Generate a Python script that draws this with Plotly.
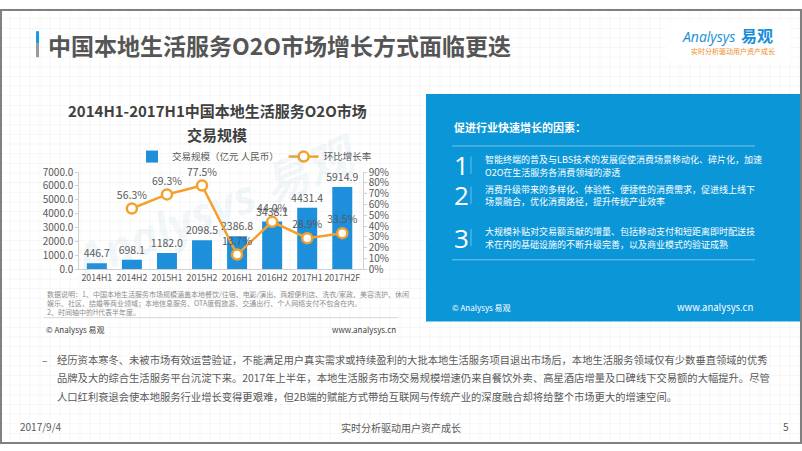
import plotly.graph_objects as go

W, H = 802, 451

categories = ["2014H1", "2014H2", "2015H1", "2015H2", "2016H1", "2016H2", "2017H1", "2017H2F"]
volume = [446.7, 698.1, 1182.0, 2098.5, 2386.8, 3438.1, 4431.4, 5914.9]
growth_categories = ["2014H2", "2015H1", "2015H2", "2016H1", "2016H2", "2017H1", "2017H2F"]
growth = [0.563, 0.693, 0.775, 0.137, 0.440, 0.289, 0.335]
left_ticks = [0, 1000, 2000, 3000, 4000, 5000, 6000, 7000]
right_ticks = [0, 0.1, 0.2, 0.3, 0.4, 0.5, 0.6, 0.7, 0.8, 0.9]

FONT = "Noto Sans CJK SC, Noto Sans, sans-serif"
BAR = "#1E8FDB"
ORANGE = "#F2A22C"
PANEL = "#0B96D8"


def px(x):
    return x / W


def py(y):
    return 1 - y / H


fig = go.Figure()
fig.add_trace(go.Bar(
    x=categories, y=volume, name="交易规模（亿元 人民币）",
    marker=dict(color=BAR, line=dict(width=0)), width=0.57,
    text=[f"{v:.1f}" for v in volume], textposition="outside", constraintext="none",
    textfont=dict(size=10.5, color="#595959", family=FONT),
    cliponaxis=False, yaxis="y",
))
fig.add_trace(go.Scatter(
    x=growth_categories, y=growth, name="环比增长率", mode="lines+markers+text",
    line=dict(color=ORANGE, width=2.5),
    marker=dict(size=10, color="white", line=dict(color=ORANGE, width=2.5)),
    text=[f"{v*100:.1f}%" for v in growth], textposition="top center",
    textfont=dict(size=10.5, color="#595959", family=FONT),
    cliponaxis=False, yaxis="y2",
))

shapes = []
# faint background grid
for gx in range(0, W, 10):
    shapes.append(dict(type="line", xref="paper", yref="paper", x0=px(gx), x1=px(gx), y0=0, y1=1,
                       line=dict(color="rgba(0,0,0,0.035)", width=1), layer="below"))
for gy in range(0, H, 10):
    shapes.append(dict(type="line", xref="paper", yref="paper", x0=0, x1=1, y0=py(gy), y1=py(gy),
                       line=dict(color="rgba(0,0,0,0.035)", width=1), layer="below"))

# slide border
shapes.append(dict(type="rect", xref="paper", yref="paper", x0=px(1), x1=px(801), y0=py(450), y1=py(1),
                   line=dict(color="#808080", width=2), fillcolor="rgba(0,0,0,0)"))
# title accent bar
shapes.append(dict(type="rect", xref="paper", yref="paper", x0=px(36), x1=px(39), y0=py(36), y1=py(23),
                   line=dict(width=0), fillcolor="#1A9BE0"))
shapes.append(dict(type="rect", xref="paper", yref="paper", x0=px(36), x1=px(39), y0=py(50), y1=py(36),
                   line=dict(width=0), fillcolor="#9A9A9A"))
# logo white box
shapes.append(dict(type="rect", xref="paper", yref="paper", x0=px(666), x1=px(790), y0=py(55), y1=py(12),
                   line=dict(width=0), fillcolor="white"))
# right blue panel
shapes.append(dict(type="rect", xref="paper", yref="paper", x0=px(426), x1=px(800), y0=py(324), y1=py(88),
                   line=dict(width=0), fillcolor=PANEL))
for yy in (142, 260):
    shapes.append(dict(type="line", xref="paper", yref="paper", x0=px(452), x1=px(755), y0=py(yy), y1=py(yy),
                       line=dict(color="rgba(255,255,255,0.45)", width=1)))
for yc in (162, 193, 237):
    shapes.append(dict(type="line", xref="paper", yref="paper", x0=px(471), x1=px(471), y0=py(yc + 9), y1=py(yc - 9),
                       line=dict(color="rgba(255,255,255,0.4)", width=1)))
# left chart footer separator
shapes.append(dict(type="line", xref="paper", yref="paper", x0=px(44), x1=px(398), y0=py(320), y1=py(320),
                   line=dict(color="#D9D9D9", width=1)))

ann = []


def text(x, y, s, size, color="#595959", xanchor="left", bold=False, family=FONT, **kw):
    if bold:
        s = f"<b>{s}</b>"
    ann.append(dict(x=px(x), y=py(y), xref="paper", yref="paper", text=s, showarrow=False,
                    xanchor=xanchor, yanchor="middle", align="left",
                    font=dict(size=size, color=color, family=family), **kw))


# main title
text(46, 37, "中国本地生活服务O2O市场增长方式面临更迭", 23, color="#555555", bold=True)
# logo
text(680, 28, "<i>Analysys</i>", 14, color="#1A8FD8", family="Open Sans, sans-serif")
text(775, 27, "易观", 16, color="#1A8FD8", xanchor="right", bold=True)
text(777, 44, "实时分析驱动用户资产成长", 7, color="#F08C1E", xanchor="right")
# watermark
text(215, 205, "<b><i>Analysys 易观</i></b>", 46, color="rgba(120,170,200,0.11)", xanchor="center",
     family="Open Sans, Noto Sans CJK SC, sans-serif", textangle=-22)
# chart title
text(217, 105, "2014H1-2017H1中国本地生活服务O2O市场", 15, color="#404040", xanchor="center", bold=True)
text(217, 130, "交易规模", 15, color="#404040", xanchor="center", bold=True)
# chart notes
text(45, 296, "数据说明：1、中国本地生活服务市场规模涵盖本地餐饮/住宿、电影/演出、商超便利店、洗衣/家政、美容洗护、休闲", 7, color="#8C8C8C")
text(45, 305, "娱乐、社区、结婚等商业领域；本地信息服务、OTA度假旅游、交通出行、个人网络支付不包含在内。", 7, color="#8C8C8C")
text(45, 314, "2、时间轴中的H代表半年度。", 7, color="#8C8C8C")
text(44, 332, "© Analysys 易观", 8, color="#404040")
text(398, 332, "www.analysys.cn", 8, color="#404040", xanchor="right")

# right panel
text(452, 122, "促进行业快速增长的因素：", 11, color="white", bold=True)
items = [
    ("1", 162, ["智能终端的普及与LBS技术的发展促使消费场景移动化、碎片化，加速", "O2O在生活服务各消费领域的渗透"]),
    ("2", 193, ["消费升级带来的多样化、体验性、便捷性的消费需求，促进线上线下", "场景融合，优化消费路径，提升传统产业效率"]),
    ("3", 237, ["大规模补贴对交易额贡献的增量、包括移动支付和短距离即时配送技", "术在内的基础设施的不断升级完善，以及商业模式的验证成熟"]),
]
for num, yc, lines in items:
    text(452, yc, num, 26, color="white", family="Open Sans, sans-serif")
    text(483, yc - 6, lines[0], 9, color="white")
    text(483, yc + 7, lines[1], 9, color="white")
text(450, 309, "© Analysys 易观", 8, color="white")
text(755, 309, "www.analysys.cn", 9.5, color="white", xanchor="right")

# bottom paragraph
text(40, 363, "–", 10.3, color="#595959")
para = [
    "经历资本寒冬、未被市场有效运营验证，不能满足用户真实需求或持续盈利的大批本地生活服务项目退出市场后，本地生活服务领域仅有少数垂直领域的优秀",
    "品牌及大的综合生活服务平台沉淀下来。2017年上半年，本地生活服务市场交易规模增速仍来自餐饮外卖、高星酒店增量及口碑线下交易额的大幅提升。尽管",
    "人口红利衰退会使本地服务行业增长变得更艰难，但2B端的赋能方式带给互联网与传统产业的深度融合却将给整个市场更大的增速空间。",
]
for i, line in enumerate(para):
    text(55, 363 + i * 19.5, line, 10.3, color="#595959")

# footer
text(18, 433, "2017/9/4", 10, color="#595959")
text(401, 434, "实时分析驱动用户资产成长", 10, color="#595959", xanchor="center")
text(791, 433, "5", 10, color="#595959", xanchor="right")

fig.update_layout(
    width=W, height=H, margin=dict(l=0, r=0, t=0, b=0),
    paper_bgcolor="white", plot_bgcolor="rgba(0,0,0,0)",
    font=dict(family=FONT, color="#595959"),
    showlegend=True,
    legend=dict(orientation="h", x=px(132), y=py(153), xanchor="left", yanchor="middle",
                font=dict(size=9.5, color="#595959", family=FONT), bgcolor="rgba(0,0,0,0)",
                itemwidth=30, tracegroupgap=0),
    bargap=0.43,
    xaxis=dict(domain=[px(79.3), px(362.7)], anchor="y", type="category",
               showline=True, linecolor="#D0D0D0", linewidth=1, ticks="", tickangle=0,
               tickfont=dict(size=8.8, color="#595959"), showgrid=False),
    yaxis=dict(domain=[py(270), py(169)], range=[0, 7000], tickvals=left_ticks,
               tickformat=".1f", showgrid=False, zeroline=False,
               showline=True, linecolor="#D0D0D0", ticks="outside", ticklen=3, tickcolor="#D0D0D0",
               tickfont=dict(size=10, color="#595959")),
    yaxis2=dict(overlaying="y", side="right", anchor="x", range=[0, 0.9], tickvals=right_ticks,
                tickformat=".0%", showgrid=False, zeroline=False,
                showline=True, linecolor="#D0D0D0", ticks="outside", ticklen=3, tickcolor="#D0D0D0",
                tickfont=dict(size=10, color="#595959")),
    shapes=shapes, annotations=ann,
)

fig.write_html(
    "out.html",
    config={"displayModeBar": False},
    post_script="document.body.style.margin='0';document.body.style.overflow='hidden';",
)
